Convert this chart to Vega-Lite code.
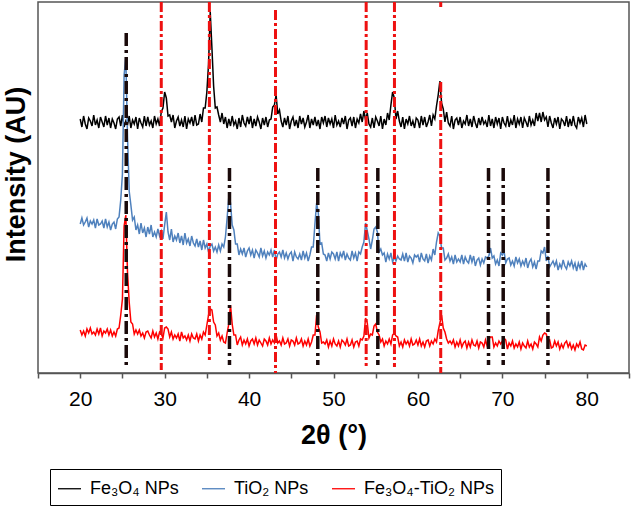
{
  "$schema": "https://vega.github.io/schema/vega-lite/v6.json",
  "width": 591,
  "height": 371,
  "autosize": {"type": "none"},
  "padding": {"left": 38, "top": 2, "right": 3, "bottom": 134},
  "background": "white",
  "datasets": {
    "xrd": [
      {"x":20,"a":254,"b":149,"c":43},{"x":20.2,"a":246,"b":155,"c":38},{"x":20.4,"a":257,"b":148,"c":42},{"x":20.6,"a":249,"b":151,"c":37},{"x":20.8,"a":244,"b":155,"c":44},
      {"x":21,"a":255,"b":146,"c":40},{"x":21.2,"a":252,"b":152,"c":45},{"x":21.4,"a":247,"b":149,"c":39},{"x":21.6,"a":258,"b":153,"c":41},{"x":21.8,"a":248,"b":145,"c":38},
      {"x":22,"a":253,"b":154,"c":44},{"x":22.2,"a":245,"b":148,"c":39},{"x":22.4,"a":256,"b":149,"c":45},{"x":22.6,"a":251,"b":152,"c":37},{"x":22.8,"a":246,"b":145,"c":42},
      {"x":23,"a":257,"b":154,"c":40},{"x":23.2,"a":248,"b":146,"c":44},{"x":23.4,"a":255,"b":151,"c":38},{"x":23.6,"a":245,"b":143,"c":43},{"x":23.8,"a":254,"b":149,"c":37},
      {"x":24,"a":250,"b":151,"c":41},{"x":24.2,"a":244,"b":144,"c":37},{"x":24.4,"a":254,"b":154,"c":44},{"x":24.6,"a":256,"b":156,"c":45},{"x":24.8,"a":247,"b":173,"c":58},
      {"x":25,"a":258,"b":199,"c":74},{"x":25.2,"a":246,"b":298,"c":147},{"x":25.4,"a":252,"b":316,"c":158},{"x":25.6,"a":248,"b":237,"c":101},{"x":25.8,"a":257,"b":182,"c":71},
      {"x":26,"a":245,"b":168,"c":51},{"x":26.2,"a":253,"b":153,"c":49},{"x":26.4,"a":249,"b":156,"c":39},{"x":26.6,"a":256,"b":143,"c":43},{"x":26.8,"a":244,"b":148,"c":39},
      {"x":27,"a":255,"b":139,"c":43},{"x":27.2,"a":250,"b":150,"c":37},{"x":27.4,"a":246,"b":140,"c":40},{"x":27.6,"a":257,"b":145,"c":35},{"x":27.8,"a":247,"b":136,"c":41},
      {"x":28,"a":256,"b":146,"c":42},{"x":28.2,"a":248,"b":139,"c":38},{"x":28.4,"a":252,"b":148,"c":35},{"x":28.6,"a":245,"b":136,"c":42},{"x":28.8,"a":257,"b":141,"c":36},
      {"x":29,"a":249,"b":136,"c":40},{"x":29.2,"a":254,"b":144,"c":34},{"x":29.4,"a":247,"b":137,"c":41},{"x":29.6,"a":261,"b":142,"c":39},{"x":29.8,"a":265,"b":134,"c":35},
      {"x":30,"a":281,"b":148,"c":45},{"x":30.2,"a":275,"b":161,"c":46},{"x":30.4,"a":257,"b":141,"c":44},{"x":30.6,"a":258,"b":133,"c":36},{"x":30.8,"a":251,"b":144,"c":41},
      {"x":31,"a":258,"b":131,"c":34},{"x":31.2,"a":245,"b":137,"c":38},{"x":31.4,"a":252,"b":133,"c":35},{"x":31.6,"a":256,"b":140,"c":39},{"x":31.8,"a":247,"b":130,"c":32},
      {"x":32,"a":253,"b":137,"c":41},{"x":32.2,"a":246,"b":128,"c":35},{"x":32.4,"a":257,"b":140,"c":37},{"x":32.6,"a":244,"b":130,"c":33},{"x":32.8,"a":254,"b":134,"c":38},
      {"x":33,"a":250,"b":127,"c":32},{"x":33.2,"a":256,"b":137,"c":39},{"x":33.4,"a":247,"b":130,"c":35},{"x":33.6,"a":258,"b":127,"c":34},{"x":33.8,"a":248,"b":134,"c":39},
      {"x":34,"a":249,"b":126,"c":32},{"x":34.2,"a":259,"b":132,"c":38},{"x":34.4,"a":251,"b":123,"c":34},{"x":34.6,"a":265,"b":133,"c":41},{"x":34.8,"a":265,"b":125,"c":38},
      {"x":35,"a":281,"b":129,"c":48},{"x":35.2,"a":309,"b":121,"c":58},{"x":35.4,"a":361,"b":127,"c":64},{"x":35.6,"a":325,"b":129,"c":63},{"x":35.8,"a":287,"b":122,"c":51},
      {"x":36,"a":265,"b":126,"c":48},{"x":36.2,"a":266,"b":121,"c":37},{"x":36.4,"a":258,"b":128,"c":40},{"x":36.6,"a":251,"b":122,"c":33},{"x":36.8,"a":260,"b":129,"c":37},
      {"x":37,"a":249,"b":126,"c":31},{"x":37.2,"a":256,"b":136,"c":30},{"x":37.4,"a":245,"b":155,"c":40},{"x":37.6,"a":254,"b":176,"c":49},{"x":37.8,"a":247,"b":170,"c":68},
      {"x":38,"a":257,"b":148,"c":49},{"x":38.2,"a":248,"b":143,"c":38},{"x":38.4,"a":252,"b":129,"c":38},{"x":38.6,"a":244,"b":129,"c":28},{"x":38.8,"a":255,"b":118,"c":33},
      {"x":39,"a":246,"b":124,"c":36},{"x":39.2,"a":258,"b":119,"c":28},{"x":39.4,"a":250,"b":125,"c":33},{"x":39.6,"a":247,"b":116,"c":29},{"x":39.8,"a":256,"b":122,"c":34},
      {"x":40,"a":249,"b":125,"c":27},{"x":40.2,"a":257,"b":118,"c":32},{"x":40.4,"a":245,"b":123,"c":34},{"x":40.6,"a":254,"b":115,"c":29},{"x":40.8,"a":247,"b":123,"c":35},
      {"x":41,"a":256,"b":120,"c":28},{"x":41.2,"a":251,"b":116,"c":33},{"x":41.4,"a":244,"b":125,"c":30},{"x":41.6,"a":255,"b":117,"c":27},{"x":41.8,"a":248,"b":122,"c":34},
      {"x":42,"a":256,"b":115,"c":32},{"x":42.2,"a":246,"b":121,"c":28},{"x":42.4,"a":253,"b":118,"c":35},{"x":42.6,"a":254,"b":123,"c":29},{"x":42.8,"a":266,"b":116,"c":33},
      {"x":43,"a":268,"b":123,"c":30},{"x":43.2,"a":278,"b":113,"c":38},{"x":43.4,"a":259,"b":119,"c":30},{"x":43.6,"a":263,"b":121,"c":32},{"x":43.8,"a":252,"b":116,"c":28},
      {"x":44,"a":246,"b":123,"c":35},{"x":44.2,"a":255,"b":115,"c":29},{"x":44.4,"a":248,"b":120,"c":30},{"x":44.6,"a":257,"b":114,"c":34},{"x":44.8,"a":244,"b":119,"c":27},
      {"x":45,"a":252,"b":121,"c":33},{"x":45.2,"a":256,"b":112,"c":32},{"x":45.4,"a":247,"b":121,"c":28},{"x":45.6,"a":253,"b":116,"c":35},{"x":45.8,"a":245,"b":114,"c":29},
      {"x":46,"a":257,"b":119,"c":30},{"x":46.2,"a":249,"b":113,"c":34},{"x":46.4,"a":255,"b":122,"c":27},{"x":46.6,"a":246,"b":115,"c":32},{"x":46.8,"a":251,"b":120,"c":28},
      {"x":47,"a":258,"b":112,"c":34},{"x":47.2,"a":245,"b":118,"c":27},{"x":47.4,"a":254,"b":126,"c":31},{"x":47.6,"a":248,"b":126,"c":38},{"x":47.8,"a":256,"b":149,"c":38},
      {"x":48,"a":247,"b":170,"c":58},{"x":48.2,"a":253,"b":160,"c":46},{"x":48.4,"a":244,"b":129,"c":41},{"x":48.6,"a":256,"b":130,"c":30},{"x":48.8,"a":250,"b":119,"c":31},
      {"x":49,"a":257,"b":118,"c":29},{"x":49.2,"a":246,"b":112,"c":33},{"x":49.4,"a":255,"b":120,"c":26},{"x":49.6,"a":249,"b":114,"c":32},{"x":49.8,"a":254,"b":121,"c":27},
      {"x":50,"a":245,"b":119,"c":34},{"x":50.2,"a":258,"b":114,"c":29},{"x":50.4,"a":248,"b":121,"c":27},{"x":50.6,"a":252,"b":112,"c":32},{"x":50.8,"a":246,"b":120,"c":26},
      {"x":51,"a":255,"b":116,"c":33},{"x":51.2,"a":249,"b":122,"c":31},{"x":51.4,"a":257,"b":113,"c":28},{"x":51.6,"a":244,"b":119,"c":34},{"x":51.8,"a":253,"b":115,"c":27},
      {"x":52,"a":255,"b":113,"c":28},{"x":52.2,"a":247,"b":122,"c":33},{"x":52.4,"a":256,"b":115,"c":26},{"x":52.6,"a":245,"b":120,"c":31},{"x":52.8,"a":254,"b":112,"c":32},
      {"x":53,"a":250,"b":121,"c":27},{"x":53.2,"a":259,"b":119,"c":34},{"x":53.4,"a":251,"b":126,"c":33},{"x":53.6,"a":262,"b":131,"c":37},{"x":53.8,"a":253,"b":150,"c":55},
      {"x":54,"a":260,"b":142,"c":50},{"x":54.2,"a":249,"b":134,"c":35},{"x":54.4,"a":246,"b":124,"c":39},{"x":54.6,"a":255,"b":133,"c":38},{"x":54.8,"a":245,"b":144,"c":47},
      {"x":55,"a":256,"b":146,"c":49},{"x":55.2,"a":252,"b":141,"c":41},{"x":55.4,"a":247,"b":121,"c":38},{"x":55.6,"a":257,"b":124,"c":31},{"x":55.8,"a":244,"b":118,"c":34},
      {"x":56,"a":254,"b":120,"c":27},{"x":56.2,"a":248,"b":111,"c":32},{"x":56.4,"a":260,"b":119,"c":29},{"x":56.6,"a":253,"b":114,"c":34},{"x":56.8,"a":268,"b":120,"c":29},
      {"x":57,"a":281,"b":111,"c":38},{"x":57.2,"a":275,"b":116,"c":40},{"x":57.4,"a":254,"b":112,"c":37},{"x":57.6,"a":262,"b":117,"c":36},{"x":57.8,"a":252,"b":114,"c":27},
      {"x":58,"a":246,"b":113,"c":31},{"x":58.2,"a":256,"b":119,"c":26},{"x":58.4,"a":244,"b":112,"c":33},{"x":58.6,"a":254,"b":120,"c":29},{"x":58.8,"a":249,"b":111,"c":32},
      {"x":59,"a":257,"b":117,"c":27},{"x":59.2,"a":247,"b":115,"c":34},{"x":59.4,"a":252,"b":110,"c":28},{"x":59.6,"a":245,"b":118,"c":29},{"x":59.8,"a":255,"b":116,"c":33},
      {"x":60,"a":253,"b":118,"c":28},{"x":60.2,"a":245,"b":111,"c":34},{"x":60.4,"a":257,"b":120,"c":27},{"x":60.6,"a":248,"b":114,"c":31},{"x":60.8,"a":256,"b":112,"c":26},
      {"x":61,"a":246,"b":119,"c":32},{"x":61.2,"a":251,"b":110,"c":33},{"x":61.4,"a":258,"b":117,"c":27},{"x":61.6,"a":247,"b":113,"c":32},{"x":61.8,"a":258,"b":124,"c":29},
      {"x":62,"a":254,"b":118,"c":34},{"x":62.2,"a":267,"b":131,"c":31},{"x":62.4,"a":278,"b":140,"c":42},{"x":62.6,"a":292,"b":137,"c":50},{"x":62.8,"a":270,"b":125,"c":58},
      {"x":63,"a":264,"b":125,"c":45},{"x":63.2,"a":251,"b":113,"c":41},{"x":63.4,"a":261,"b":115,"c":34},{"x":63.6,"a":250,"b":119,"c":30},{"x":63.8,"a":247,"b":112,"c":32},
      {"x":64,"a":257,"b":116,"c":29},{"x":64.2,"a":244,"b":109,"c":33},{"x":64.4,"a":253,"b":118,"c":26},{"x":64.6,"a":255,"b":111,"c":31},{"x":64.8,"a":248,"b":114,"c":27},
      {"x":65,"a":256,"b":111,"c":33},{"x":65.2,"a":245,"b":118,"c":26},{"x":65.4,"a":252,"b":109,"c":30},{"x":65.6,"a":249,"b":116,"c":32},{"x":65.8,"a":258,"b":112,"c":25},
      {"x":66,"a":247,"b":110,"c":31},{"x":66.2,"a":254,"b":118,"c":26},{"x":66.4,"a":246,"b":111,"c":33},{"x":66.6,"a":257,"b":117,"c":28},{"x":66.8,"a":250,"b":107,"c":27},
      {"x":67,"a":245,"b":113,"c":32},{"x":67.2,"a":255,"b":115,"c":25},{"x":67.4,"a":248,"b":108,"c":31},{"x":67.6,"a":256,"b":114,"c":30},{"x":67.8,"a":249,"b":110,"c":26},
      {"x":68,"a":252,"b":116,"c":33},{"x":68.2,"a":246,"b":115,"c":27},{"x":68.4,"a":258,"b":117,"c":34},{"x":68.6,"a":247,"b":125,"c":36},{"x":68.8,"a":254,"b":115,"c":36},
      {"x":69,"a":245,"b":117,"c":26},{"x":69.2,"a":256,"b":109,"c":30},{"x":69.4,"a":249,"b":113,"c":27},{"x":69.6,"a":255,"b":107,"c":32},{"x":69.8,"a":244,"b":120,"c":29},
      {"x":70,"a":256,"b":118,"c":32},{"x":70.2,"a":250,"b":122,"c":35},{"x":70.4,"a":247,"b":110,"c":33},{"x":70.6,"a":257,"b":114,"c":24},{"x":70.8,"a":246,"b":115,"c":30},
      {"x":71,"a":253,"b":108,"c":27},{"x":71.2,"a":248,"b":112,"c":32},{"x":71.4,"a":258,"b":107,"c":25},{"x":71.6,"a":245,"b":116,"c":29},{"x":71.8,"a":254,"b":110,"c":26},
      {"x":72,"a":249,"b":114,"c":31},{"x":72.2,"a":256,"b":107,"c":24},{"x":72.4,"a":245,"b":112,"c":30},{"x":72.6,"a":255,"b":108,"c":27},{"x":72.8,"a":251,"b":115,"c":25},
      {"x":73,"a":246,"b":105,"c":32},{"x":73.2,"a":257,"b":111,"c":26},{"x":73.4,"a":248,"b":114,"c":29},{"x":73.6,"a":253,"b":106,"c":24},{"x":73.8,"a":247,"b":111,"c":31},
      {"x":74,"a":260,"b":104,"c":29},{"x":74.2,"a":252,"b":112,"c":26},{"x":74.4,"a":260,"b":112,"c":36},{"x":74.6,"a":251,"b":122,"c":32},{"x":74.8,"a":261,"b":120,"c":38},
      {"x":75,"a":253,"b":126,"c":40},{"x":75.2,"a":256,"b":112,"c":39},{"x":75.4,"a":246,"b":117,"c":32},{"x":75.6,"a":257,"b":106,"c":33},{"x":75.8,"a":250,"b":109,"c":25},
      {"x":76,"a":245,"b":112,"c":26},{"x":76.2,"a":255,"b":107,"c":32},{"x":76.4,"a":249,"b":112,"c":27},{"x":76.6,"a":256,"b":103,"c":31},{"x":76.8,"a":244,"b":109,"c":24},
      {"x":77,"a":254,"b":105,"c":29},{"x":77.2,"a":252,"b":113,"c":25},{"x":77.4,"a":247,"b":107,"c":30},{"x":77.6,"a":257,"b":104,"c":32},{"x":77.8,"a":246,"b":111,"c":26},
      {"x":78,"a":254,"b":107,"c":30},{"x":78.2,"a":247,"b":112,"c":24},{"x":78.4,"a":257,"b":105,"c":28},{"x":78.6,"a":248,"b":110,"c":23},{"x":78.8,"a":245,"b":102,"c":29},
      {"x":79,"a":256,"b":110,"c":26},{"x":79.2,"a":250,"b":105,"c":31},{"x":79.4,"a":255,"b":112,"c":24},{"x":79.6,"a":246,"b":103,"c":23},{"x":79.8,"a":258,"b":109,"c":28},
      {"x":80,"a":249,"b":106,"c":27}
    ],
    "ref": [
      {"k":"r","x":29.6,"bot":3,"top":371},
      {"k":"r","x":35.3,"bot":11,"top":371},
      {"k":"r","x":43.13,"bot":0,"top":363},
      {"k":"r","x":53.87,"bot":7,"top":371},
      {"k":"r","x":57.22,"bot":6,"top":371},
      {"k":"r","x":62.7,"bot":0,"top":291},
      {"k":"r","x":62.7,"bot":366,"top":371},
      {"k":"k","x":25.45,"bot":6,"top":340},
      {"k":"k","x":37.68,"bot":8,"top":205},
      {"k":"k","x":48.14,"bot":8,"top":205},
      {"k":"k","x":55.25,"bot":8,"top":205},
      {"k":"k","x":68.36,"bot":8,"top":205},
      {"k":"k","x":70.1,"bot":8,"top":205},
      {"k":"k","x":75.4,"bot":8,"top":205}
    ]
  },
  "layer": [
    {
      "data": {"name": "xrd"},
      "transform": [{"fold": ["a", "b", "c"], "as": ["s", "y"]}],
      "mark": {"type": "line", "strokeWidth": 1.5, "clip": true},
      "encoding": {
        "x": {
          "field": "x", "type": "quantitative",
          "scale": {"domain": [15, 85], "nice": false, "zero": false},
          "axis": {
            "values": [15, 20, 25, 30, 35, 40, 45, 50, 55, 60, 65, 70, 75, 80, 85],
            "labelExpr": "datum.value % 10 == 0 ? datum.label : ''",
            "labelOverlap": false,
            "labelFlush": false,
            "title": "2θ (°)",
            "titleFontSize": 27, "titleFontWeight": "bold", "titleColor": "#000000",
            "titleBaseline": "alphabetic", "titleY": 70,
            "labelFontSize": 21, "labelColor": "#000000", "labelBaseline": "alphabetic", "labelPadding": 27,
            "tickSize": 5, "tickColor": "#555555", "tickWidth": 1.5,
            "domainColor": "#555555", "domainWidth": 1.5, "grid": false
          }
        },
        "y": {
          "field": "y", "type": "quantitative",
          "scale": {"domain": [0, 371], "nice": false, "zero": false},
          "axis": {
            "title": "Intensity (AU)",
            "titleFontSize": 27, "titleFontWeight": "bold", "titleColor": "#000000",
            "titleBaseline": "alphabetic", "titleX": -14, "titleY": 172,
            "labels": false, "ticks": false, "domain": false, "grid": false
          }
        },
        "color": {
          "field": "s", "type": "nominal",
          "scale": {"domain": ["a", "b", "c"], "range": ["#000000", "#4f81bd", "#ff0000"]},
          "legend": {
            "orient": "none", "legendX": 12, "legendY": 467,
            "direction": "horizontal", "title": null,
            "labelExpr": "datum.label == 'a' ? 'Fe₃O₄ NPs' : datum.label == 'b' ? 'TiO₂ NPs' : 'Fe₃O₄-TiO₂ NPs'",
            "symbolType": "stroke", "symbolSize": 529, "symbolStrokeWidth": 1.3,
            "labelFontSize": 18, "labelColor": "#000000", "labelOffset": 8,
            "columnPadding": 20, "padding": 7,
            "strokeColor": "#000000"
          }
        }
      }
    },
    {
      "data": {"name": "ref"},
      "transform": [{"filter": "datum.k == 'r'"}],
      "mark": {"type": "rule", "color": "#ee1111", "strokeWidth": 3, "strokeDash": [10, 3, 3, 3]},
      "encoding": {
        "x": {"field": "x", "type": "quantitative"},
        "y": {"field": "top", "type": "quantitative"},
        "y2": {"field": "bot"}
      }
    },
    {
      "data": {"name": "ref"},
      "transform": [{"filter": "datum.k == 'k'"}],
      "mark": {"type": "rule", "color": "#1a0a0a", "strokeWidth": 3.5, "strokeDash": [13, 4, 3, 4]},
      "encoding": {
        "x": {"field": "x", "type": "quantitative"},
        "y": {"field": "top", "type": "quantitative"},
        "y2": {"field": "bot"}
      }
    }
  ],
  "config": {
    "font": "Liberation Sans",
    "view": {"stroke": "#555555", "strokeWidth": 1.5},
    "axis": {"grid": false}
  }
}
